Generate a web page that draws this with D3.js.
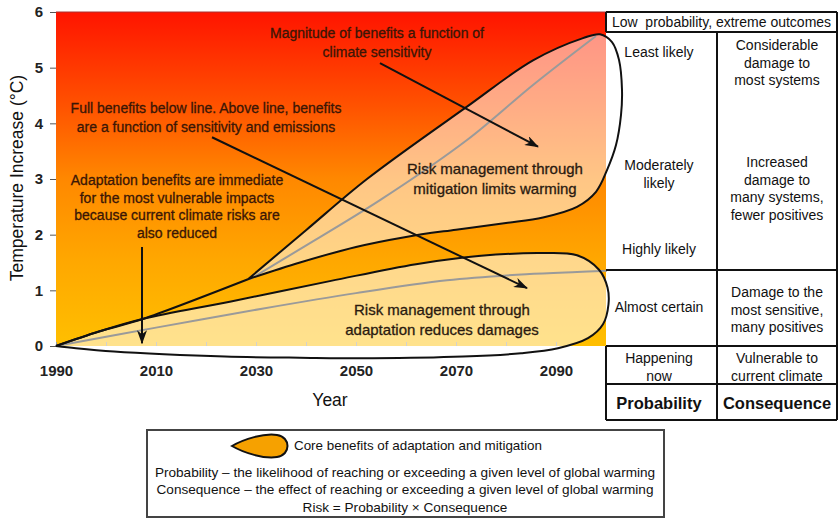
<!DOCTYPE html>
<html><head><meta charset="utf-8">
<script src="https://cdn.jsdelivr.net/npm/d3@7"></script>
<style>body{margin:0;background:#fff}svg{display:block}text{font-family:"Liberation Sans",Arial,sans-serif}</style>
</head><body><svg id="c" width="839" height="520"></svg>
<script>
// ---- data (year, °C) ----
const xTickYears = [1990,2000,2010,2020,2030,2040,2050,2060,2070,2080,2090];
const xLabelYears = [1990,2010,2030,2050,2070,2090];
const yTicks = [0,1,2,3,4,5,6];
const commonLine = [[1990,0],[1998.6,0.26],[2007.5,0.49],[2028.4,1.20]];
const mitUpper = [[2028.4,1.20],[2040,2.08],[2052.2,3.00],[2072.2,4.30],[2085.4,5.13],[2095.4,5.53],[2098.8,5.60]];
const mitCap = [[2101.2,5.46],[2102.6,5.14],[2103.2,4.60],[2103.0,4.15],[2102.0,3.61],[2100.2,3.16],[2098.0,2.77],[2094.2,2.50]];
const mitLower = [[2087.4,2.31],[2080,2.21],[2070,2.09],[2060,1.96],[2050,1.78],[2038.8,1.50],[2028.4,1.20]];
const mitCentral = [[2028.8,1.20],[2038.8,1.74],[2054.8,2.62],[2072.2,3.70],[2085.4,4.69],[2098,5.57]];
const adaUpper = [[2007.5,0.49],[2025,0.80],[2045,1.17],[2062,1.47],[2075,1.62],[2086.8,1.67]];
const adaCap = [[2094.2,1.63],[2098.6,1.37],[2100.3,1.05],[2100.5,0.75],[2099.4,0.39],[2096.4,0.14]];
const adaLower = [[2090.4,-0.04],[2083,-0.13],[2071.4,-0.19],[2053.4,-0.22],[2038.8,-0.21],[2023.8,-0.19],[2011.6,-0.15],[2001.6,-0.10],[1994,-0.04],[1990,0]];
const adaCentral = [[1990,0],[2010,0.33],[2031.2,0.67],[2050,0.95],[2068.2,1.18],[2084,1.29],[2094.2,1.33],[2100.2,1.35]];
const arrowMagnitude = [[2054.8,5.08],[2086.4,3.58]];
const arrowFull = [[2021.2,3.75],[2084.2,1.04]];
const arrowAdapt = [[2007.2,1.78],[2007.2,0.05]];

const annMagnitude = ["Magnitude of benefits a function of","climate sensitivity"];
const annFull = ["Full benefits below line. Above line, benefits","are a function of sensitivity and emissions"];
const annAdapt = ["Adaptation benefits are immediate","for the most vulnerable impacts","because current climate risks are","also reduced"];
const annMit = ["Risk management through","mitigation limits warming"];
const annAda = ["Risk management through","adaptation reduces damages"];

const probLabels = [["Least likely"],["Moderately","likely"],["Highly likely"],["Almost certain"],["Happening","now"]];
const consLabels = [["Considerable","damage to","most systems"],["Increased","damage to","many systems,","fewer positives"],["Damage to the","most sensitive,","many positives"],["Vulnerable to","current climate"]];
const legendLines = ["Probability \u2013 the likelihood of reaching or exceeding a given level of global warming","Consequence \u2013 the effect of reaching or exceeding a given level of global warming","Risk = Probability \u00d7 Consequence"];

// ---- drawing ----
const svg = d3.select('#c');
const x = d3.scaleLinear().domain([1990,2100]).range([56,606]);
const y = d3.scaleLinear().domain([0,6]).range([346,12]);
const defs = svg.append('defs');
const g = defs.append('linearGradient').attr('id','bg').attr('x1',0).attr('y1',0).attr('x2',0).attr('y2',1);
[[0,'#ff1400'],[0.28,'#ff5200'],[0.5,'#ff8800'],[0.75,'#ffa800'],[1,'#ffbf00']].forEach(s=>g.append('stop').attr('offset',s[0]).attr('stop-color',s[1]));
defs.append('marker').attr('id','ah').attr('viewBox','0 0 14 10').attr('refX',13).attr('refY',5)
  .attr('markerWidth',14).attr('markerHeight',10).attr('markerUnits','userSpaceOnUse').attr('orient','auto')
  .append('path').attr('d','M0,0 L14,5 L0,10 L4,5 Z').attr('fill','#111');

svg.append('rect').attr('x',x(1990)).attr('y',y(6)).attr('width',x(2100)-x(1990)).attr('height',y(0)-y(6)).attr('fill','url(#bg)');
svg.append('line').attr('x1',x(1990)).attr('x2',x(2100)).attr('y1',y(6)).attr('y2',y(6)).attr('stroke','#a33').attr('stroke-width',1);

// axes
const xa = svg.append('g').attr('transform',`translate(0,${y(0)})`)
  .call(d3.axisBottom(x).tickValues(xTickYears).tickSizeInner(-4).tickSizeOuter(0).tickPadding(19)
    .tickFormat(d=>xLabelYears.includes(d)?d:''));
xa.select('.domain').remove();
xa.selectAll('line').attr('stroke','#999');
xa.selectAll('text').attr('font-size',15).attr('font-weight','bold').attr('fill','#222').style('font-family','"Liberation Sans",Arial,sans-serif');
const ya = svg.append('g').attr('transform',`translate(${x(1990)},0)`)
  .call(d3.axisLeft(y).tickValues(yTicks).tickSizeInner(6).tickSizeOuter(0).tickPadding(7).tickFormat(d3.format('d')));
ya.select('.domain').remove();
ya.selectAll('line').attr('stroke','#555');
ya.selectAll('text').attr('font-size',15).attr('font-weight','bold').attr('fill','#222').style('font-family','"Liberation Sans",Arial,sans-serif');

svg.append('text').attr('x',330).attr('y',406).attr('text-anchor','middle').attr('font-size',17.5).attr('fill','#111').text('Year');
svg.append('text').attr('transform','translate(23,178) rotate(-90)').attr('text-anchor','middle').attr('font-size',17.5).attr('fill','#111').text('Temperature Increase (\u00b0C)');

const line = d3.line().x(d=>x(d[0])).y(d=>y(d[1])).curve(d3.curveCatmullRom.alpha(0.5));
const mitShape = mitUpper.concat(mitCap, mitLower);
const adaShape = commonLine.slice(0,3).concat(adaUpper.slice(1), adaCap, adaLower);

svg.append('path').attr('d',line(adaShape)+'Z').attr('fill','#fff').attr('fill-opacity',0.55);
svg.append('path').attr('d',line(mitShape)+'Z').attr('fill','#fff').attr('fill-opacity',0.52);
svg.append('path').attr('d',line(adaCentral)).attr('fill','none').attr('stroke','#9a9a9a').attr('stroke-width',2);
svg.append('path').attr('d',line(mitCentral)).attr('fill','none').attr('stroke','#9a9a9a').attr('stroke-width',2);
svg.append('path').attr('d',line(adaShape)+'Z').attr('fill','none').attr('stroke','#111').attr('stroke-width',2);
svg.append('path').attr('d',line(mitShape)+'Z').attr('fill','none').attr('stroke','#111').attr('stroke-width',2);
svg.append('path').attr('d',line(commonLine)).attr('fill','none').attr('stroke','#111').attr('stroke-width',2);

[arrowMagnitude,arrowFull,arrowAdapt].forEach(a=>{
  svg.append('line').attr('x1',x(a[0][0])).attr('y1',y(a[0][1])).attr('x2',x(a[1][0])).attr('y2',y(a[1][1]))
    .attr('stroke','#111').attr('stroke-width',2).attr('marker-end','url(#ah)');
});

function block(lines,cx,y0,dy,size,color,weight){
  lines.forEach((t,i)=>svg.append('text').attr('x',cx).attr('y',y0+i*dy).attr('text-anchor','middle')
    .attr('font-size',size).attr('fill',color).attr('stroke',color).attr('stroke-width',0.3).attr('font-weight',weight||'normal').text(t));
}
const ac = '#3a1606';
block(annMagnitude,377,38,19,14,ac);
block(annFull,206,113,18.5,14,ac);
block(annAdapt,177,185,17.7,14,ac);
block(annMit,495,174,20,15,'#2a1a10');
block(annAda,442,315,20,15,'#2a1a10');

// table
const T = svg.append('g');
const tl = (x1,y1,x2,y2)=>T.append('line').attr('x1',x1).attr('y1',y1).attr('x2',x2).attr('y2',y2).attr('stroke','#111').attr('stroke-width',2);
const tx0=606, tx1=717, tx2=837;
tl(tx0,12,tx2,12); tl(tx0,32,tx2,32); tl(tx0,270,tx2,270); tl(tx0,346,tx2,346); tl(tx0,384,tx2,384); tl(tx0,420,tx2,420);
tl(tx0,12,tx0,32); tl(tx0,346,tx0,420); tl(tx2,12,tx2,420); tl(tx1,32,tx1,420);
const c1=659, c2=777, fs=14, tc='#111';
T.append('text').attr('x',(tx0+tx2)/2).attr('y',27).attr('text-anchor','middle').attr('font-size',fs).attr('fill',tc).style('white-space','pre').text('Low  probability, extreme outcomes');
const probY=[57,170,254,312,363];
probLabels.forEach((L,i)=>L.forEach((t,j)=>T.append('text').attr('x',c1).attr('y',probY[i]+j*17.5).attr('text-anchor','middle').attr('font-size',fs).attr('fill',tc).text(t)));
const consY=[50,167,297,363];
consLabels.forEach((L,i)=>L.forEach((t,j)=>T.append('text').attr('x',c2).attr('y',consY[i]+j*17.5).attr('text-anchor','middle').attr('font-size',fs).attr('fill',tc).text(t)));
T.append('text').attr('x',c1).attr('y',409).attr('text-anchor','middle').attr('font-size',16.5).attr('font-weight','bold').attr('fill',tc).text('Probability');
T.append('text').attr('x',c2).attr('y',409).attr('text-anchor','middle').attr('font-size',16.5).attr('font-weight','bold').attr('fill',tc).text('Consequence');

// legend
svg.append('rect').attr('x',147).attr('y',430).attr('width',517).attr('height',87).attr('fill','#fff').attr('stroke','#444').attr('stroke-width',2);
svg.append('path').attr('d','M232,446 C244,439 264,433 277,435 C291,437 291,455 277,457 C264,459 244,453 232,446 Z').attr('fill','#f6a100').attr('stroke','#111').attr('stroke-width',2);
svg.append('text').attr('x',294).attr('y',450).attr('font-size',13.4).attr('fill','#111').text('Core benefits of adaptation and mitigation');
legendLines.forEach((t,i)=>svg.append('text').attr('x',405).attr('y',477+i*17.3).attr('text-anchor','middle').attr('font-size',13.6).attr('fill','#111').text(t));
</script></body></html>
